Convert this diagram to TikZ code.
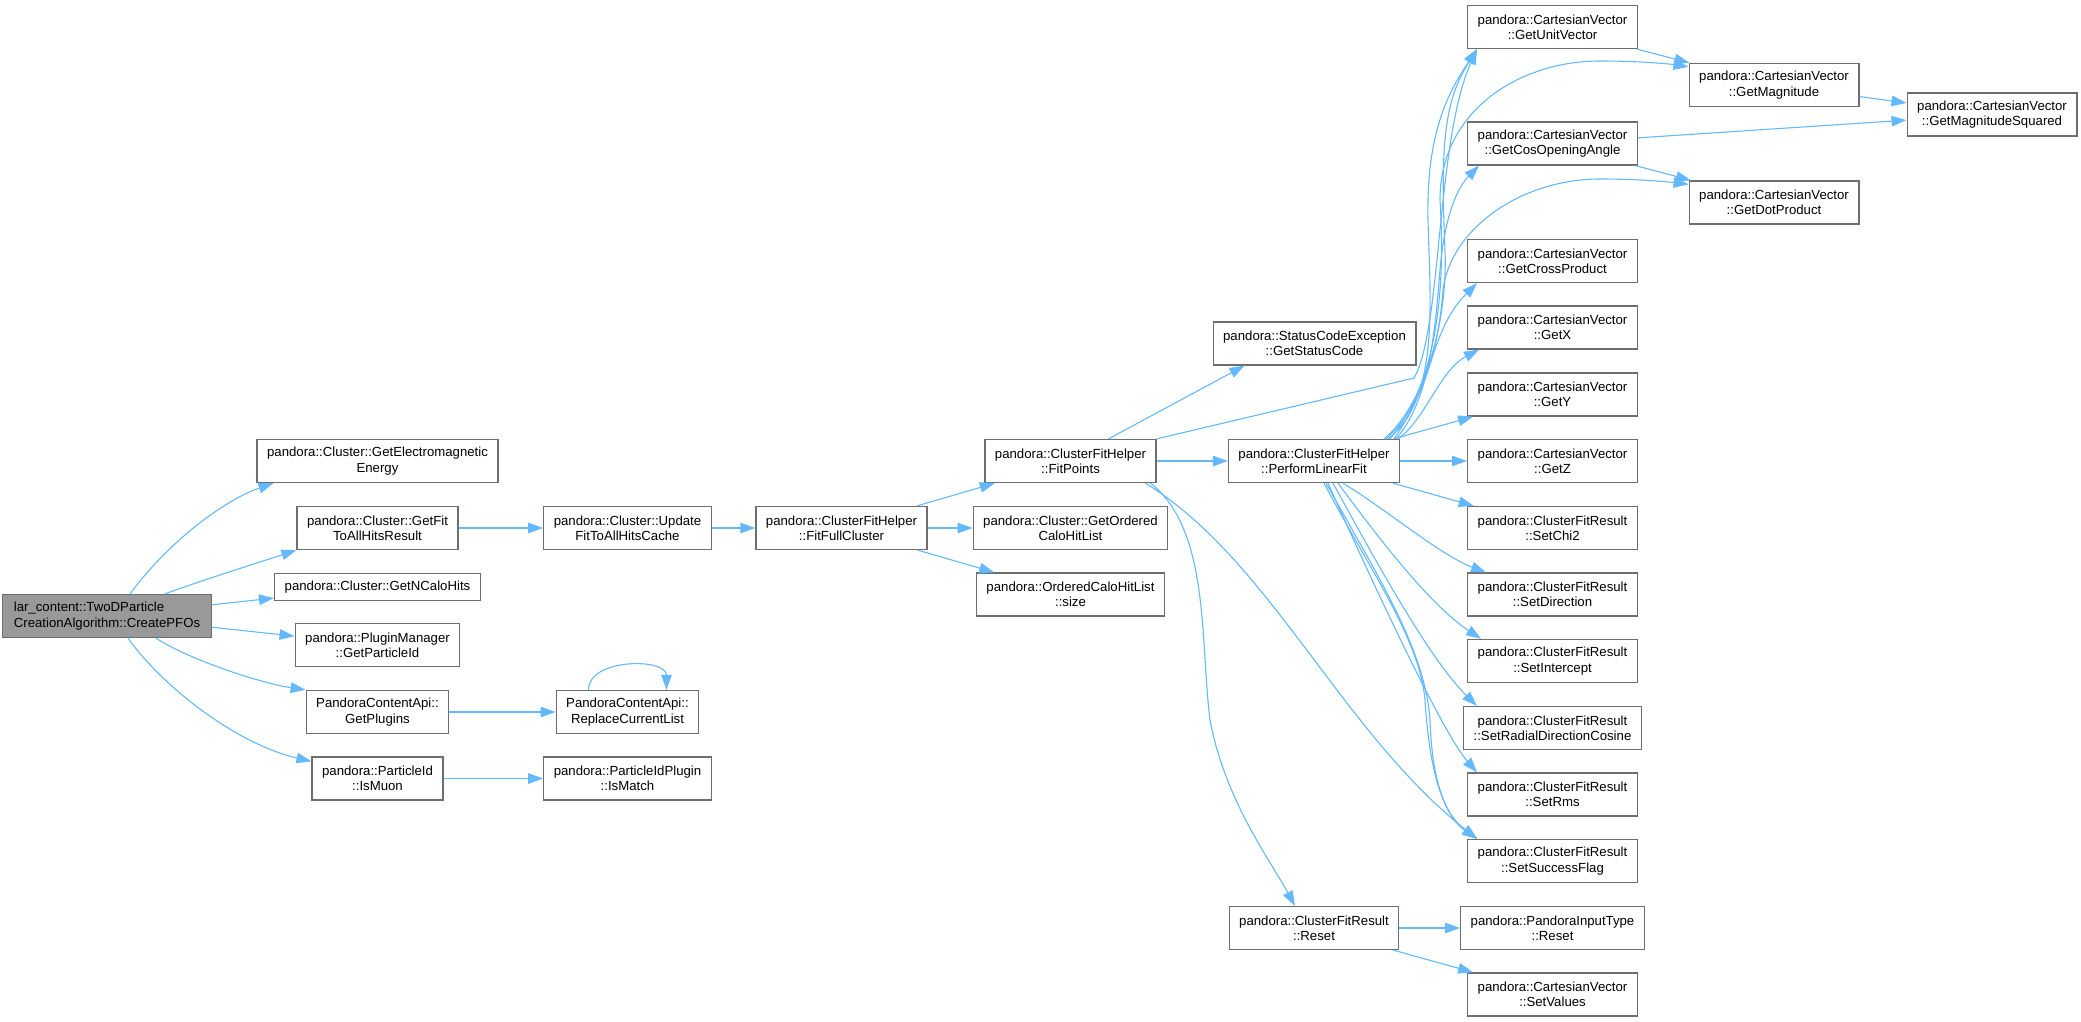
\documentclass[tikz,border=0pt]{standalone}
\usepackage{fontspec}
\setmainfont{Liberation Sans}
\definecolor{callblue}{HTML}{63B8FF}
\definecolor{boxline}{HTML}{6E6E6E}
\definecolor{rootfill}{HTML}{999999}
\usetikzlibrary{arrows.meta}
\tikzstyle{fn}=[draw=boxline, fill=white, line width=1.3pt, inner xsep=10pt, inner ysep=0pt, minimum height=43pt, align=center, font=\fontsize{13.2}{15.3}\selectfont]
\tikzstyle{root}=[fn, fill=rootfill, align=left, inner xsep=11pt]
\tikzstyle{call}=[draw=callblue, line width=1.1pt, -{Triangle[length=15pt,width=10.5pt]}]

\begin{document}
\begin{tikzpicture}[x=1pt, y=-1pt]
    \useasboundingbox (0,0) rectangle (2081,1021);
        \node [root] (root) at (107,616) {lar\_content::TwoDParticle\\CreationAlgorithm::CreatePFOs};

        \node [fn] (gee) at (377.5,461) {pandora::Cluster::GetElectromagnetic\\Energy};
        \node [fn] (fitres) at (377.5,528) {pandora::Cluster::GetFit\\ToAllHitsResult};
        \node [fn, minimum height=27pt] (ncalo) at (377.5,587) {pandora::Cluster::GetNCaloHits};
        \node [fn] (pid) at (377.5,645) {pandora::PluginManager\\::GetParticleId};
        \node [fn] (plugins) at (377.5,712) {PandoraContentApi::\\GetPlugins};
        \node [fn] (muon) at (377.5,778.5) {pandora::ParticleId\\::IsMuon};

        \node [fn] (upd) at (627.5,528) {pandora::Cluster::Update\\FitToAllHitsCache};
        \node [fn] (repl) at (627.5,712) {PandoraContentApi::\\ReplaceCurrentList};
        \node [fn] (match) at (627.5,778.5) {pandora::ParticleIdPlugin\\::IsMatch};

        \node [fn] (ffc) at (841.5,528) {pandora::ClusterFitHelper\\::FitFullCluster};

        \node [fn] (fp) at (1070.5,461) {pandora::ClusterFitHelper\\::FitPoints};
        \node [fn] (ordered) at (1070.5,528) {pandora::Cluster::GetOrdered\\CaloHitList};
        \node [fn] (size) at (1070.5,594.5) {pandora::OrderedCaloHitList\\::size};

        \node [fn] (status) at (1314.5,343.5) {pandora::StatusCodeException\\::GetStatusCode};
        \node [fn] (plf) at (1314,461) {pandora::ClusterFitHelper\\::PerformLinearFit};
        \node [fn] (reset) at (1314,928) {pandora::ClusterFitResult\\::Reset};

        \node [fn] (guv) at (1552.5,27) {pandora::CartesianVector\\::GetUnitVector};
        \node [fn] (gcoa) at (1552.5,143.5) {pandora::CartesianVector\\::GetCosOpeningAngle};
        \node [fn] (gcross) at (1552.5,261) {pandora::CartesianVector\\::GetCrossProduct};
        \node [fn] (gx) at (1552.5,327.5) {pandora::CartesianVector\\::GetX};
        \node [fn] (gy) at (1552.5,394.5) {pandora::CartesianVector\\::GetY};
        \node [fn] (gz) at (1552.5,461) {pandora::CartesianVector\\::GetZ};
        \node [fn] (schi) at (1552.5,528) {pandora::ClusterFitResult\\::SetChi2};
        \node [fn] (sdir) at (1552.5,594.5) {pandora::ClusterFitResult\\::SetDirection};
        \node [fn] (sicpt) at (1552.5,661) {pandora::ClusterFitResult\\::SetIntercept};
        \node [fn] (srad) at (1552.5,728) {pandora::ClusterFitResult\\::SetRadialDirectionCosine};
        \node [fn] (srms) at (1552.5,794.5) {pandora::ClusterFitResult\\::SetRms};
        \node [fn] (sflag) at (1552.5,861) {pandora::ClusterFitResult\\::SetSuccessFlag};
        \node [fn] (ptreset) at (1552.5,928) {pandora::PandoraInputType\\::Reset};
        \node [fn] (setv) at (1552.5,994.5) {pandora::CartesianVector\\::SetValues};

        \node [fn] (gmag) at (1774,85) {pandora::CartesianVector\\::GetMagnitude};
        \node [fn] (gdot) at (1774,202.5) {pandora::CartesianVector\\::GetDotProduct};
        \node [fn] (gmagsq) at (1992,114.5) {pandora::CartesianVector\\::GetMagnitudeSquared};

        \coordinate (kink) at (1414,378);

        \draw [call] ([xshift=23pt]root.north) .. controls (170,540) and (225,500) .. ([xshift=17pt]gee.south west);
        \draw [call] ([xshift=58pt]root.north) .. controls (200,581) and (260,562) .. (fitres.south west);
        \draw [call] (root) -- (ncalo);
        \draw [call] (root) -- (pid);
        \draw [call] ([xshift=49pt]root.south) .. controls (190,660) and (260,683) .. (plugins.north west);
        \draw [call] ([xshift=21pt]root.south) .. controls (165,690) and (240,745) .. ([yshift=-5pt]muon.north west);

        \draw [call] (fitres) -- (upd);
        \draw [call] (plugins) -- (repl);
        \draw [call] ([xshift=-39pt]repl.north) .. controls +(0,-32) and +(0,-32) .. ([xshift=39pt]repl.north);
        \draw [call] (muon) -- (match);
        \draw [call] (upd) -- (ffc);

        \draw [call] (ffc) -- (fp);
        \draw [call] (ffc) -- (ordered);
        \draw [call] (ffc) -- (size);

        \draw [call] ([xshift=38pt]fp.north) -- ([xshift=-70pt]status.south);
        \draw [call] (fp.north east) -- (kink) .. controls (1442,330) and (1436,140) .. ([xshift=10pt]guv.south west);
        \draw [call] (fp) -- (plf);
        \draw [call] ([xshift=75pt]fp.south) .. controls (1270,560) and (1340,730) .. ([xshift=10pt]sflag.north west);
        \draw [call] ([xshift=80pt]fp.south) .. controls (1210,530) and (1200,640) .. (1210,720) .. controls (1225,800) and (1270,860) .. ([xshift=-19pt]reset.north);

        \draw [call] ([xshift=70pt]plf.north) .. controls (1420,410) and (1448,330) .. (1445,250) .. controls (1440,140) and (1445,100) .. ([xshift=10pt]guv.south west);
        \draw [call] ([xshift=74pt]plf.north) .. controls (1440,400) and (1430,300) .. (1428,220) .. controls (1426,130) and (1450,90) .. ([xshift=10pt]guv.south west);
        \draw [call] ([xshift=76pt]plf.north) .. controls (1440,380) and (1445,280) .. (1440,200) .. controls (1440,110) and (1520,61) .. (1600,61) .. controls (1640,61) and (1670,64) .. ([yshift=-4pt]gmag.north west);
        \draw [call] ([xshift=82pt]plf.north) .. controls (1430,400) and (1435,330) .. (1440,270) .. controls (1445,210) and (1460,185) .. ([xshift=12pt]gcoa.south west);
        \draw [call] ([xshift=72pt]plf.north) .. controls (1430,400) and (1440,330) .. (1443,290) .. controls (1450,230) and (1520,179) .. (1600,179) .. controls (1640,179) and (1670,182) .. ([yshift=-4pt]gdot.north west);
        \draw [call] ([xshift=80pt]plf.north) .. controls (1435,380) and (1430,330) .. ([xshift=10pt]gcross.south west);
        \draw [call] ([xshift=84pt]plf.north) .. controls (1425,420) and (1440,370) .. ([xshift=12pt]gx.south west);
        \draw [call] (plf) -- (gy);
        \draw [call] (plf) -- (gz);
        \draw [call] (plf) -- (schi);
        \draw [call] ([xshift=29pt]plf.south) .. controls (1390,512) and (1440,555) .. ([xshift=19pt]sdir.north west);
        \draw [call] ([xshift=24pt]plf.south) .. controls (1380,540) and (1430,605) .. ([xshift=14pt]sicpt.north west);
        \draw [call] ([xshift=19pt]plf.south) .. controls (1375,560) and (1430,660) .. ([xshift=14pt]srad.north west);
        \draw [call] ([xshift=14pt]plf.south) .. controls (1360,555) and (1440,730) .. ([xshift=10pt]srms.north west);
        \draw [call] ([xshift=10pt]plf.south) .. controls (1370,570) and (1420,640) .. (1425,700) .. controls (1430,780) and (1445,815) .. ([xshift=10pt]sflag.north west);
        \draw [call] ([xshift=12pt]plf.south) .. controls (1380,580) and (1425,650) .. (1430,720) .. controls (1432,790) and (1450,820) .. ([xshift=10pt]sflag.north west);

        \draw [call] (reset) -- (ptreset);
        \draw [call] (reset) -- (setv);

        \draw [call] (guv) -- (gmag);
        \draw [call] (gmag) -- (gmagsq);
        \draw [call] (gcoa) -- (gmagsq);
        \draw [call] (gcoa) -- (gdot);
\end{tikzpicture}
\end{document}
